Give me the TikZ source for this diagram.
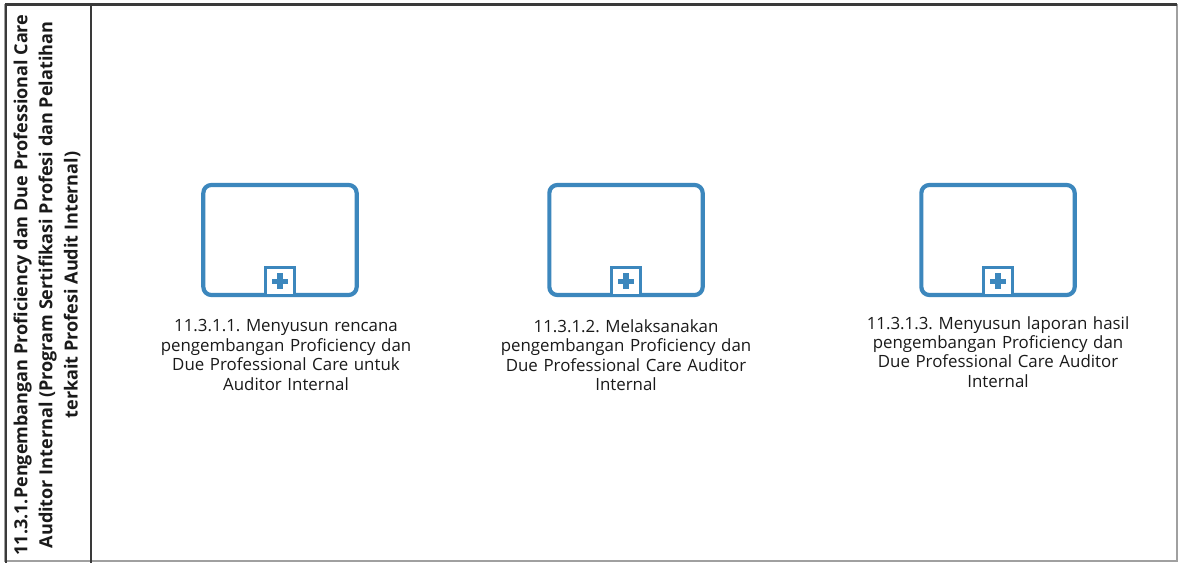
\documentclass[tikz,border=0pt]{standalone}
\usepackage{fontspec}
\setmainfont{Open Sans}
\usepackage{xcolor}
\usetikzlibrary{positioning}
\definecolor{taskblue}{HTML}{3C87BD}
\definecolor{frameink}{HTML}{3A3A3A}
\definecolor{laneink}{HTML}{A0A0A0}
\definecolor{labelink}{HTML}{1A1A1A}
\tikzset{
  % a sub-process: rounded box with a collapsed marker
  subproc/.style={draw=taskblue, line width=1.25mm, rounded corners=2.4mm,
                  minimum width=4.6cm, minimum height=3.3cm, inner sep=0pt},
  plusbox/.style={draw=taskblue, line width=0.9mm, fill=white,
                  minimum size=0.85cm, inner sep=0pt},
  tasklabel/.style={font=\fontsize{14.4}{16.6}\selectfont, text=labelink,
                    align=center, text width=9cm},
  lanelabel/.style={font=\fontsize{15.4}{21.5}\selectfont\bfseries, text=labelink,
                    align=center, rotate=90},
}
\frenchspacing
\begin{document}
\begin{tikzpicture}[x=0.03cm,y=-0.03cm]
  \useasboundingbox[fill=white] (0,0) rectangle (1181,563);
  % pool frame
  \draw[laneink, line width=0.4mm] (5,5) rectangle (1177,561);
  \draw[frameink, line width=0.9mm] (5,5) -- (1177,5);
  \draw[frameink, line width=0.6mm] (6,5) -- (6,563);
  \draw[frameink, line width=0.7mm] (91,5) -- (91,563);
  \node[lanelabel] (lane) at (47,285) {11.3.1.Pengembangan Proficiency dan Due Professional Care\\
    Auditor Internal (Program Sertifikasi Profesi dan Pelatihan\\
    terkait Profesi Audit Internal)};

  % sub-processes
  \foreach \n/\cx in {one/280, two/626, three/998}{
    \node[subproc] (\n) at (\cx,240) {};
    \node[plusbox, anchor=south] (\n-plus) at (\n.south) {};
    \fill[taskblue] (\n-plus.center) +(-8,-2.6) rectangle +(8,2.6);
    \fill[taskblue] (\n-plus.center) +(-2.6,-8) rectangle +(2.6,8);
  }
  \node[tasklabel, below=0.55cm of one, xshift=0.18cm] (one-txt) {11.3.1.1. Menyusun rencana\\pengembangan Proficiency dan\\Due Professional Care untuk\\Auditor Internal};
  \node[tasklabel, below=0.55cm of two] (two-txt) {11.3.1.2. Melaksanakan\\pengembangan Proficiency dan\\Due Professional Care Auditor\\Internal};
  \node[tasklabel, below=0.45cm of three] (three-txt) {11.3.1.3. Menyusun laporan hasil\\pengembangan Proficiency dan\\Due Professional Care Auditor\\Internal};
\end{tikzpicture}
\end{document}
